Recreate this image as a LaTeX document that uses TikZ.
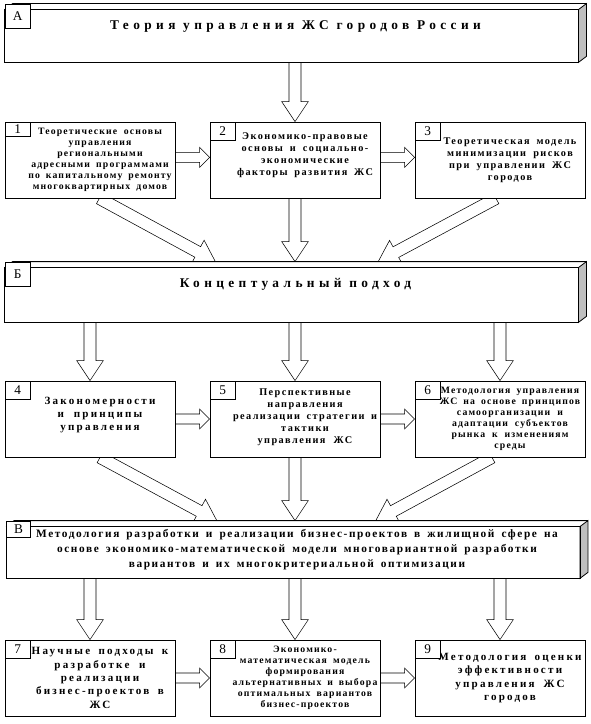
\documentclass[tikz,border=0pt]{standalone}
\usepackage{fontspec}
\setmainfont{Liberation Serif}
\newfontfamily\lsSmall[LetterSpace=12, WordSpace=1.6]{Liberation Serif}
\newfontfamily\lsMid[LetterSpace=14, WordSpace=1.6]{Liberation Serif}
\newfontfamily\lsBig[LetterSpace=20, WordSpace=1.6]{Liberation Serif}
\newfontfamily\lsHead[LetterSpace=33]{Liberation Serif}
\usetikzlibrary{calc, backgrounds}

% объёмная рамка заголовка
\newcommand{\solidframe}[1]{%
  \draw[fill=gray!50] ([xshift=-6pt,yshift=-4.5pt]#1.north east) -- (#1.north east)
    -- ([yshift=4.5pt]#1.south east) -- ([xshift=-6pt]#1.south east) -- cycle;
  \draw ([yshift=-4.5pt]#1.north west) -- ([xshift=6pt]#1.north west) -- (#1.north east);
  \draw ([yshift=-4.5pt]#1.north west) rectangle ([xshift=-6pt]#1.south east);
}

\begin{document}
\begin{tikzpicture}[
x=0.75pt, y=-0.75pt,
line width=0.6pt,
header/.style={rectangle, fill=white, minimum width=435.75pt, inner sep=0pt, align=center},
box/.style={rectangle, draw, fill=white, minimum width=127.5pt, minimum height=57pt,
  inner xsep=0.75pt, inner ysep=1pt, text width=126pt, align=center,
  execute at begin node={\advance\leftskip 15pt\spaceskip=\fontdimen2\font plus 1pt\relax}},
num/.style={rectangle, draw, fill=white, anchor=north west, minimum width=19pt,
  minimum height=13.5pt, inner sep=0pt, font=\fontsize{10}{11}\selectfont},
smalltext/.style={font=\lsSmall\bfseries\fontsize{7.3}{8.2}\selectfont},
midtext/.style={font=\lsMid\bfseries\fontsize{7.7}{9}\selectfont},
bigtext/.style={font=\lsBig\bfseries\fontsize{8.3}{10}\selectfont},
blockarrow/.style n args={3}{to path={
  let \p1=(\tikztostart), \p2=(\tikztotarget),
      \n1={atan2(\y2-\y1,\x2-\x1)}, \n2={veclen(\x2-\x1,\y2-\y1)} in
  {[shift={(\p1)}, rotate=\n1]
   (0,-#1) -- ({\n2-#3},-#1) -- ({\n2-#3},-#2) -- ({\n2+0pt},0)
   -- ({\n2-#3},#2) -- ({\n2-#3},#1) -- (0,#1) -- cycle}}},
bigarrow/.style={blockarrow={4.5pt}{10pt}{15pt}},
smallarrow/.style={blockarrow={3.75pt}{7.5pt}{7.5pt}}
]
\useasboundingbox (0,0) rectangle (590,724);

% А
\node[header, minimum height=43.5pt, text height=7pt, text depth=12pt,
  font=\lsHead\bfseries\fontsize{10}{12}\selectfont] (teoria) at (295.5,33)
  {Теория управления ЖС городов России};
\solidframe{teoria}
\node[num, minimum height=18pt] (nA) at (teoria.north west) {А};

% 1-3
\node[box, smalltext] (osnovy) at (90,160) {Теоретические основы\\управления\\региональными\\адресными программами\\по капитальному ремонту\\многоквартирных домов};
\node[num, minimum height=11pt] (n1) at (osnovy.north west) {1};
\node[box, midtext, text depth=36pt] (faktory) at (295,160) {Экономико-правовые\\основы и социально-\\экономические\\факторы развития ЖС};
\node[num] (n2) at (faktory.north west) {2};
\node[box, midtext] (riski) at (500,160) {Теоретическая модель\\минимизации рисков\\при управлении ЖС\\городов};
\node[num] (n3) at (riski.north west) {3};

% Б
\node[header, minimum height=45pt, text height=7pt, text depth=13.5pt,
  font=\lsHead\bfseries\fontsize{10}{12}\selectfont] (podhod) at (295.5,292)
  {Концептуальный подход};
\solidframe{podhod}
\node[num, minimum height=18pt] (nB) at (podhod.north west) {Б};

% 4-6
\node[box, bigtext, text depth=28pt] (principy) at (90,419) {Закономерности\\и принципы\\управления};
\node[num] (n4) at (principy.north west) {4};
\node[box, midtext, text depth=41pt] (strategiya) at (295,419) {Перспективные\\направления\\реализации стратегии и\\тактики\\управления ЖС};
\node[num] (n5) at (strategiya.north west) {5};
\node[box, smalltext] (samoorg) at (500,419) {Методология управления\\ЖС на основе принципов\\самоорганизации и\\адаптации субъектов\\рынка к изменениям\\среды};
\node[num] (n6) at (samoorg.north west) {6};

% В
\node[header, minimum height=42.75pt,
  font=\lsMid\bfseries\fontsize{8.5}{11.25}\selectfont] (metod) at (297,549.5)
  {Методология разработки и реализации бизнес-проектов в жилищной сфере на\\
   основе экономико-математической модели многовариантной разработки\\
   вариантов и их многокритериальной оптимизации};
\solidframe{metod}
\node[num, minimum width=18pt, minimum height=12pt] (nV) at (metod.north west) {В};

% 7-9
\node[box, bigtext] (podhody) at (90,678) {Научные подходы к\\разработке и\\реализации\\бизнес-проектов в\\ЖС};
\node[num] (n7) at (podhody.north west) {7};
\node[box, smalltext] (model) at (295,678) {Экономико-\\математическая модель\\формирования\\альтернативных и выбора\\оптимальных вариантов\\бизнес-проектов};
\node[num] (n8) at (model.north west) {8};
\node[box, bigtext] (ocenka) at (500,678) {Методология оценки\\эффективности\\управления ЖС\\городов};
\node[num] (n9) at (ocenka.north west) {9};

% СТРЕЛКИ
\begin{scope}[on background layer]
\draw[bigarrow] (teoria.south -| faktory) to (faktory.north);
\draw[smallarrow] ([yshift=2pt]osnovy.east) to ([yshift=2pt]faktory.west);
\draw[smallarrow] ([yshift=2pt]faktory.east) to ([yshift=2pt]riski.west);

\draw[bigarrow] ([xshift=7pt]osnovy.south) to ([xshift=-60pt]podhod.north);
\draw[bigarrow] (faktory.south) to (faktory.south |- podhod.north);
\draw[bigarrow] ([xshift=-3pt]riski.south) to ([xshift=62pt]podhod.north);

\draw[bigarrow] (podhod.south -| principy) to (principy.north);
\draw[bigarrow] (podhod.south -| strategiya) to (strategiya.north);
\draw[bigarrow] (podhod.south -| samoorg) to (samoorg.north);
\draw[smallarrow] (principy.east) to (strategiya.west);
\draw[smallarrow] (strategiya.east) to (samoorg.west);

\draw[bigarrow] ([xshift=7.5pt]principy.south) to ([xshift=-60pt]metod.north);
\draw[bigarrow] (strategiya.south) to (strategiya.south |- metod.north);
\draw[bigarrow] ([xshift=-6pt]samoorg.south) to ([xshift=59pt]metod.north);

\draw[bigarrow] (metod.south -| podhody) to (podhody.north);
\draw[bigarrow] (metod.south -| model) to (model.north);
\draw[bigarrow] (metod.south -| ocenka) to (ocenka.north);
\draw[smallarrow] (podhody.east) to (model.west);
\draw[smallarrow] (model.east) to (ocenka.west);
\end{scope}

\end{tikzpicture}
\end{document}
